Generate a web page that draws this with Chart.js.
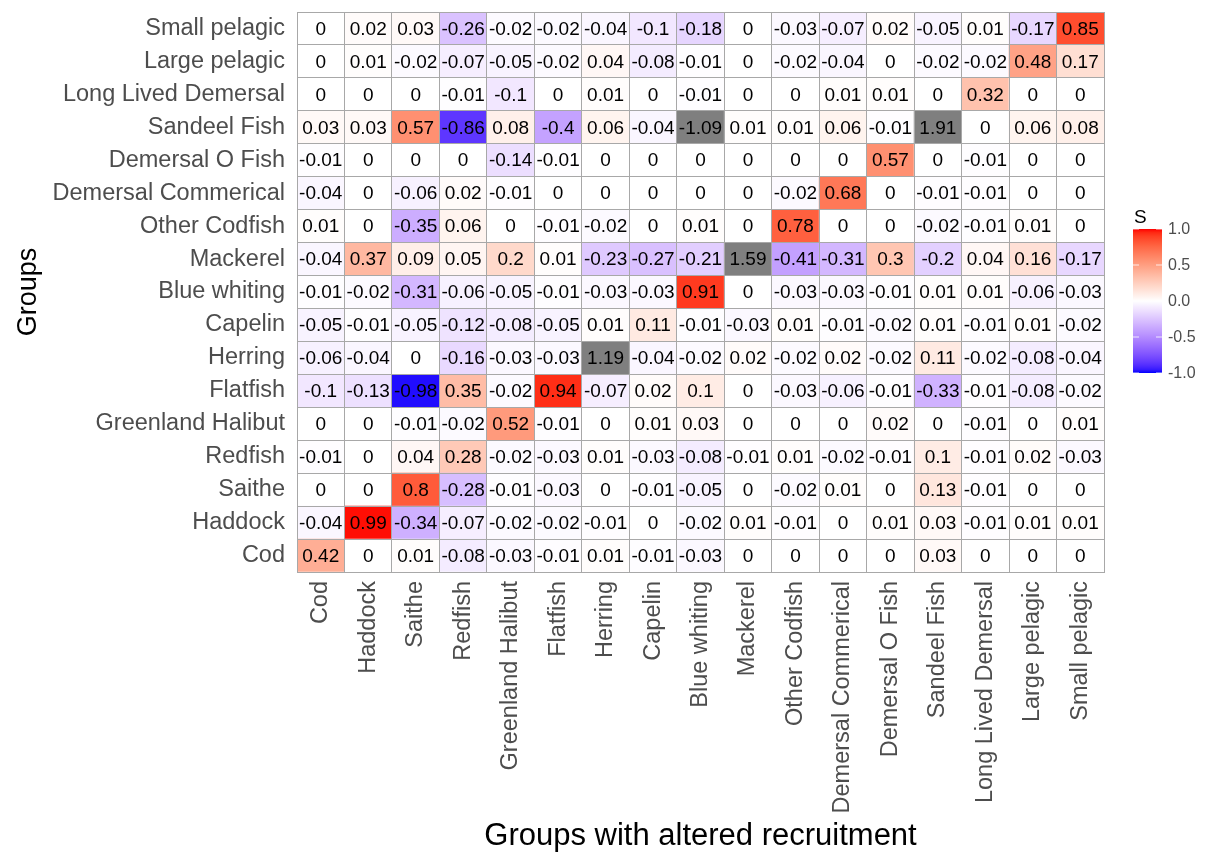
<!DOCTYPE html>
<html>
<head>
<meta charset="utf-8">
<title>Groups with altered recruitment</title>
<script src="https://cdn.jsdelivr.net/npm/chart.js@4.4.1/dist/chart.umd.min.js"></script>
<style>
  html, body { margin: 0; padding: 0; background: #fff; }
</style>
</head>
<body>
<canvas id="heat" width="1210" height="855"></canvas>
<script>
// groups, used for both axes (bottom -> top on y, left -> right on x)
var groups = ['Cod', 'Haddock', 'Saithe', 'Redfish', 'Greenland Halibut', 'Flatfish',
  'Herring', 'Capelin', 'Blue whiting', 'Mackerel', 'Other Codfish', 'Demersal Commerical',
  'Demersal O Fish', 'Sandeel Fish', 'Long Lived Demersal', 'Large pelagic', 'Small pelagic'];

// S for each group (row), one value per group with altered recruitment (column)
var sCod        = [0.42, 0, 0.01, -0.08, -0.03, -0.01, 0.01, -0.01, -0.03, 0, 0, 0, 0, 0.03, 0, 0, 0];
var sHaddock    = [-0.04, 0.99, -0.34, -0.07, -0.02, -0.02, -0.01, 0, -0.02, 0.01, -0.01, 0, 0.01, 0.03, -0.01, 0.01, 0.01];
var sSaithe     = [0, 0, 0.8, -0.28, -0.01, -0.03, 0, -0.01, -0.05, 0, -0.02, 0.01, 0, 0.13, -0.01, 0, 0];
var sRedfish    = [-0.01, 0, 0.04, 0.28, -0.02, -0.03, 0.01, -0.03, -0.08, -0.01, 0.01, -0.02, -0.01, 0.1, -0.01, 0.02, -0.03];
var sGreenland  = [0, 0, -0.01, -0.02, 0.52, -0.01, 0, 0.01, 0.03, 0, 0, 0, 0.02, 0, -0.01, 0, 0.01];
var sFlatfish   = [-0.1, -0.13, -0.98, 0.35, -0.02, 0.94, -0.07, 0.02, 0.1, 0, -0.03, -0.06, -0.01, -0.33, -0.01, -0.08, -0.02];
var sHerring    = [-0.06, -0.04, 0, -0.16, -0.03, -0.03, 1.19, -0.04, -0.02, 0.02, -0.02, 0.02, -0.02, 0.11, -0.02, -0.08, -0.04];
var sCapelin    = [-0.05, -0.01, -0.05, -0.12, -0.08, -0.05, 0.01, 0.11, -0.01, -0.03, 0.01, -0.01, -0.02, 0.01, -0.01, 0.01, -0.02];
var sBlueWhit   = [-0.01, -0.02, -0.31, -0.06, -0.05, -0.01, -0.03, -0.03, 0.91, 0, -0.03, -0.03, -0.01, 0.01, 0.01, -0.06, -0.03];
var sMackerel   = [-0.04, 0.37, 0.09, 0.05, 0.2, 0.01, -0.23, -0.27, -0.21, 1.59, -0.41, -0.31, 0.3, -0.2, 0.04, 0.16, -0.17];
var sOtherCod   = [0.01, 0, -0.35, 0.06, 0, -0.01, -0.02, 0, 0.01, 0, 0.78, 0, 0, -0.02, -0.01, 0.01, 0];
var sDemComm    = [-0.04, 0, -0.06, 0.02, -0.01, 0, 0, 0, 0, 0, -0.02, 0.68, 0, -0.01, -0.01, 0, 0];
var sDemOFish   = [-0.01, 0, 0, 0, -0.14, -0.01, 0, 0, 0, 0, 0, 0, 0.57, 0, -0.01, 0, 0];
var sSandeel    = [0.03, 0.03, 0.57, -0.86, 0.08, -0.4, 0.06, -0.04, -1.09, 0.01, 0.01, 0.06, -0.01, 1.91, 0, 0.06, 0.08];
var sLongLived  = [0, 0, 0, -0.01, -0.1, 0, 0.01, 0, -0.01, 0, 0, 0.01, 0.01, 0, 0.32, 0, 0];
var sLargePel   = [0, 0.01, -0.02, -0.07, -0.05, -0.02, 0.04, -0.08, -0.01, 0, -0.02, -0.04, 0, -0.02, -0.02, 0.48, 0.17];
var sSmallPel   = [0, 0.02, 0.03, -0.26, -0.02, -0.02, -0.04, -0.1, -0.18, 0, -0.03, -0.07, 0.02, -0.05, 0.01, -0.17, 0.85];

var sRows = [sCod, sHaddock, sSaithe, sRedfish, sGreenland, sFlatfish, sHerring, sCapelin,
  sBlueWhit, sMackerel, sOtherCod, sDemComm, sDemOFish, sSandeel, sLongLived, sLargePel, sSmallPel];

var legendTicks = [1.0, 0.5, 0.0, -0.5, -1.0];

var FONT = '"Liberation Sans", Arial, sans-serif';
var GRID = '#a8a8a8';

// blue - white - red, interpolated in Lab like ggplot's gradient2
function toLin(c) { c /= 255; return c <= 0.04045 ? c / 12.92 : Math.pow((c + 0.055) / 1.055, 2.4); }
function toSrgb(c) {
  c = c <= 0.0031308 ? 12.92 * c : 1.055 * Math.pow(c, 1 / 2.4) - 0.055;
  return Math.round(Math.max(0, Math.min(1, c)) * 255);
}
function rgbToLab(rgb) {
  var r = toLin(rgb[0]), g = toLin(rgb[1]), b = toLin(rgb[2]);
  var x = (0.4124 * r + 0.3576 * g + 0.1805 * b) / 0.95047;
  var y = 0.2126 * r + 0.7152 * g + 0.0722 * b;
  var z = (0.0193 * r + 0.1192 * g + 0.9505 * b) / 1.08883;
  var f = function (t) { return t > 0.008856 ? Math.cbrt(t) : 7.787 * t + 16 / 116; };
  return [116 * f(y) - 16, 500 * (f(x) - f(y)), 200 * (f(y) - f(z))];
}
function labToRgb(lab) {
  var fy = (lab[0] + 16) / 116, fx = fy + lab[1] / 500, fz = fy - lab[2] / 200;
  var inv = function (t) { var t3 = t * t * t; return t3 > 0.008856 ? t3 : (t - 16 / 116) / 7.787; };
  var x = inv(fx) * 0.95047, y = inv(fy), z = inv(fz) * 1.08883;
  return [
    toSrgb(3.2406 * x - 1.5372 * y - 0.4986 * z),
    toSrgb(-0.9689 * x + 1.8758 * y + 0.0415 * z),
    toSrgb(0.0557 * x - 0.2040 * y + 1.0570 * z)
  ];
}
var labLow = rgbToLab([0, 0, 255]), labMid = rgbToLab([255, 255, 255]), labHigh = rgbToLab([255, 0, 0]);

function fillFor(v) {
  if (v > 1 || v < -1) return '#7f7f7f';
  var end = v >= 0 ? labHigh : labLow, t = Math.abs(v);
  var lab = [0, 1, 2].map(function (k) { return labMid[k] + (end[k] - labMid[k]) * t; });
  var c = labToRgb(lab);
  return 'rgb(' + c[0] + ',' + c[1] + ',' + c[2] + ')';
}

var datasets = sRows.map(function (row, i) {
  return {
    label: groups[i],
    data: groups.map(function () { return [i, i + 1]; }),
    values: row,
    backgroundColor: row.map(fillFor),
    borderWidth: 0,
    grouped: false,
    barPercentage: 1,
    categoryPercentage: 1
  };
});

var cellText = {
  id: 'cellText',
  afterDraw: function (chart) {
    var ctx = chart.ctx;
    ctx.save();
    ctx.font = '19px ' + FONT;
    ctx.fillStyle = '#000';
    ctx.textAlign = 'center';
    ctx.textBaseline = 'middle';
    chart.data.datasets.forEach(function (ds, i) {
      chart.getDatasetMeta(i).data.forEach(function (el, j) {
        var p = el.getProps(['x', 'y', 'base'], true);
        ctx.fillText(String(ds.values[j]), p.x, (p.y + p.base) / 2 + 1);
      });
    });
    ctx.restore();
  }
};

var colorBar = {
  id: 'colorBar',
  afterDraw: function (chart) {
    var ctx = chart.ctx, area = chart.chartArea;
    var x0 = area.right + 29, w = 29, top = 229, h = 144;
    ctx.save();
    var grad = ctx.createLinearGradient(0, top, 0, top + h);
    for (var k = 0; k <= 40; k++) {
      grad.addColorStop(k / 40, fillFor(1 - k / 20));
    }
    ctx.fillStyle = grad;
    ctx.fillRect(x0, top, w, h);
    ctx.font = '19px ' + FONT;
    ctx.fillStyle = '#000';
    ctx.textBaseline = 'alphabetic';
    ctx.fillText('S', x0 + 1, top - 6);
    ctx.font = '16px ' + FONT;
    ctx.fillStyle = '#4d4d4d';
    ctx.textBaseline = 'middle';
    ctx.strokeStyle = 'rgba(255,255,255,0.8)';
    ctx.lineWidth = 1;
    legendTicks.forEach(function (v) {
      var y = top + (1 - v) / 2 * h;
      ctx.beginPath();
      ctx.moveTo(x0, y); ctx.lineTo(x0 + 6, y);
      ctx.moveTo(x0 + w - 6, y); ctx.lineTo(x0 + w, y);
      ctx.stroke();
      ctx.fillText(v.toFixed(1), x0 + w + 6, y + 1);
    });
    ctx.restore();
  }
};

new Chart(document.getElementById('heat'), {
  type: 'bar',
  data: { labels: groups, datasets: datasets },
  plugins: [cellText, colorBar],
  options: {
    responsive: false,
    animation: false,
    layout: { padding: { left: 0, top: 12, right: 106, bottom: 0 } },
    plugins: { legend: { display: false }, tooltip: { enabled: false } },
    scales: {
      x: {
        type: 'category',
        offset: true,
        z: 1,
        grid: { z: 1, offset: true, color: GRID, lineWidth: 1, drawTicks: false },
        border: { display: true, color: GRID, z: 1 },
        ticks: {
          autoSkip: false, minRotation: 90, maxRotation: 90, padding: 9,
          color: '#4d4d4d', font: { family: FONT, size: 23.5 }
        },
        title: {
          display: true, text: 'Groups with altered recruitment', color: '#000',
          font: { family: FONT, size: 31 }, padding: { top: 0, bottom: 0 }
        },
        afterFit: function (axis) {
          axis.height = 283;
          axis.paddingLeft = 0;
          axis.paddingRight = 0;
        }
      },
      y: {
        type: 'linear',
        min: 0,
        max: 17,
        z: 1,
        afterBuildTicks: function (axis) {
          var t = [];
          for (var i = 0; i <= groups.length; i++) {
            t.push({ value: i });
            if (i < groups.length) t.push({ value: i + 0.5 });
          }
          axis.ticks = t;
        },
        grid: {
          z: 1, lineWidth: 1, drawTicks: false,
          color: function (c) { return c.tick && c.tick.value % 1 === 0 ? GRID : 'rgba(0,0,0,0)'; }
        },
        border: { display: true, color: GRID, z: 1 },
        ticks: {
          autoSkip: false, padding: 12, color: '#4d4d4d', font: { family: FONT, size: 23.5 },
          callback: function (v) { return v % 1 === 0 ? '' : groups[Math.floor(v)]; }
        },
        title: {
          display: true, text: 'Groups', color: '#000',
          font: { family: FONT, size: 27 }, padding: { top: 12, bottom: 0 }
        },
        afterFit: function (axis) {
          axis.width = 297;
          axis.paddingTop = 0;
          axis.paddingBottom = 0;
        }
      }
    }
  }
});
</script>
</body>
</html>
